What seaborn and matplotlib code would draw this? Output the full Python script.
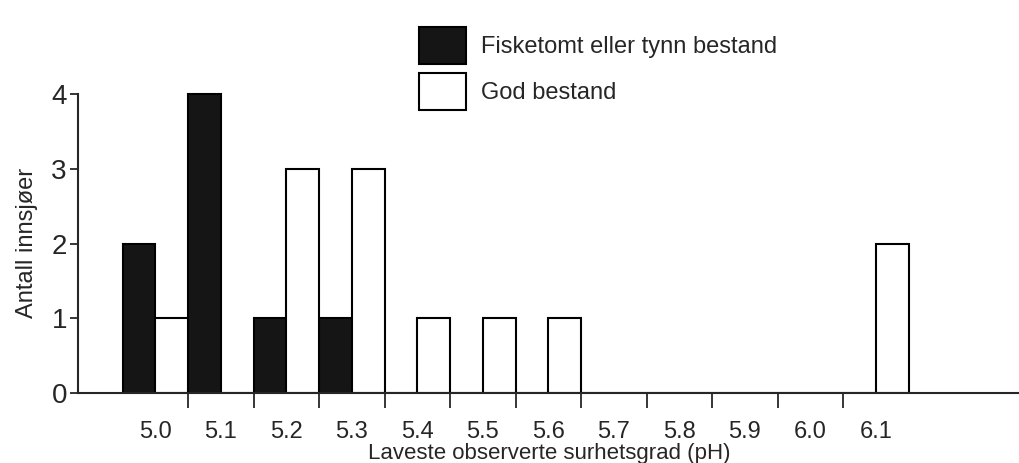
import matplotlib.pyplot as plt
import numpy as np
import pandas as pd
import seaborn as sns

ph_levels = ["5.0", "5.1", "5.2", "5.3", "5.4", "5.5", "5.6",
             "5.7", "5.8", "5.9", "6.0", "6.1"]
fisketomt = [2, 4, 1, 1, 0, 0, 0, 0, 0, 0, 0, 0]
god_bestand = [1, 0, 3, 3, 1, 1, 1, 0, 0, 0, 0, 2]
groups = ["Fisketomt eller tynn bestand", "God bestand"]

df = pd.DataFrame({
    "ph": ph_levels * 2,
    "antall": fisketomt + god_bestand,
    "gruppe": [groups[0]] * len(ph_levels) + [groups[1]] * len(ph_levels),
})

sns.set_style("ticks")
plt.rcParams["font.family"] = ["Liberation Sans", "DejaVu Sans"]

W, H = 1020, 463
fig = plt.figure(figsize=(W / 100, H / 100), dpi=100)
ax = fig.add_axes([78 / W, 1 - 393 / H, (1020 - 78) / W, (393 - 92) / H])

sns.barplot(data=df, x="ph", y="antall", hue="gruppe", order=ph_levels,
            hue_order=groups, palette=["#151515", "white"], width=1.0,
            gap=0, edgecolor="black", linewidth=1.5, saturation=1, ax=ax)

ax.set_xlim(-1.18, 13.2)
ax.set_ylim(0, 4.03)
ax.set_yticks([0, 1, 2, 3, 4])
ax.spines["left"].set_bounds(0, 4)
ax.spines["top"].set_visible(False)
ax.spines["right"].set_visible(False)
for side in ["left", "bottom"]:
    ax.spines[side].set_linewidth(1.5)

ax.set_xticks(np.arange(len(ph_levels)))
ax.set_xticklabels(ph_levels)
ax.set_xticks(np.arange(len(ph_levels) - 1) + 0.5, minor=True)
ax.tick_params(axis="x", which="major", length=0, pad=20, labelsize=17)
ax.tick_params(axis="x", which="minor", length=11, width=1.3, direction="out")
ax.tick_params(axis="y", length=6, width=1.3, labelsize=20, pad=2)

ax.set_xlabel("Laveste observerte surhetsgrad (pH)", fontsize=16, labelpad=0)
ax.set_ylabel("Antall innsjøer", fontsize=17, labelpad=10)

sns.move_legend(ax, loc="upper left", bbox_to_anchor=(398 / W, 1 - 6 / H),
                bbox_transform=fig.transFigure, frameon=False, title=None,
                fontsize=17, handlelength=2.0, handleheight=2.0,
                handletextpad=0.6, labelspacing=0.4)

fig.savefig("out.png", dpi=100)
